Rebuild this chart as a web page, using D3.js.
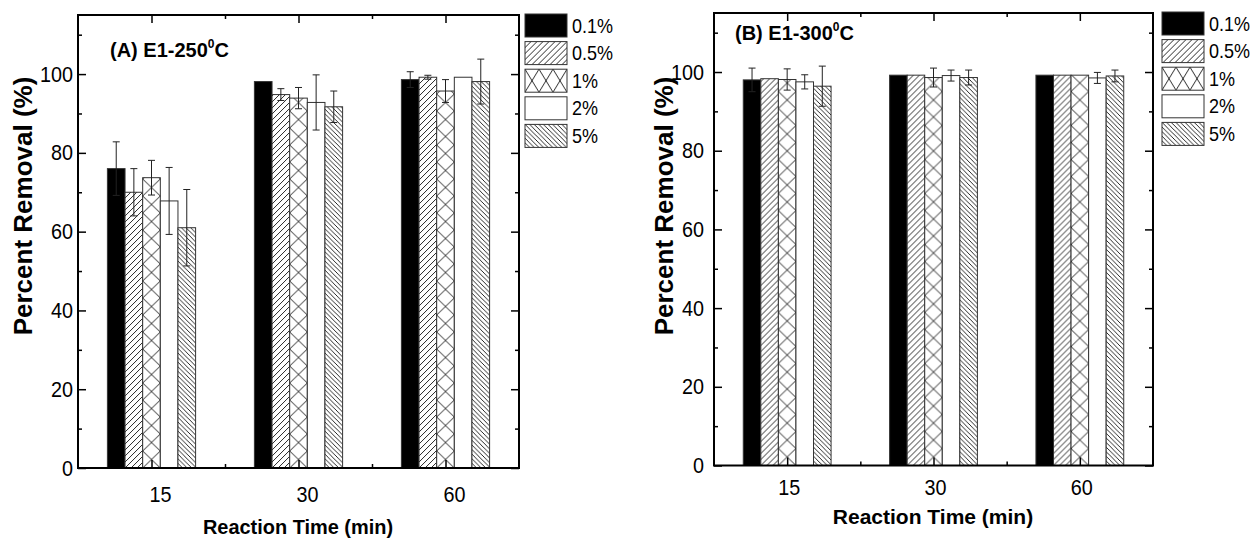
<!DOCTYPE html>
<html>
<head>
<meta charset="utf-8">
<script src="https://cdn.jsdelivr.net/npm/d3@7"></script>
<style>
  body { margin: 0; background: #fff; }
  text { font-family: "Liberation Sans", Arial, Helvetica, sans-serif; fill: #000; }
</style>
</head>
<body>
<svg></svg>
<script>
// data
var times = ['15', '30', '60'];
var loadings = ['0.1%', '0.5%', '1%', '2%', '5%'];
var fills = ['solid', 'fwd', 'cross', 'empty', 'back'];
var yTicks = [0, 20, 40, 60, 80, 100];
var yMinor = [10, 30, 50, 70, 90, 110];

// percent removal, one row per loading, one value per reaction time
var meanA = [[76.0, 98.1, 98.6], [70.0, 94.8, 99.2], [73.7, 93.9, 95.7], [67.8, 92.8, 99.2], [61.0, 91.7, 98.1]];
var errA  = [[6.8, 0, 2.0], [6.0, 1.5, 0.5], [4.4, 2.7, 2.9], [8.5, 7.0, 0], [9.7, 4.0, 5.7]];
var meanB = [[98.0, 99.2, 99.2], [98.3, 99.2, 99.2], [98.1, 98.6, 99.2], [97.5, 99.1, 98.5], [96.4, 98.6, 99.0]];
var errB  = [[3.0, 0, 0], [0, 0, 0], [2.7, 2.4, 0], [1.8, 1.4, 1.4], [5.1, 1.9, 1.5]];

var svg = d3.select('svg').attr('width', 1253).attr('height', 539);
var defs = svg.append('defs');

// hatch patterns, made per mark so the tiles line up with the bar edges
function pattern(id, type, x, y, w, h) {
  var p = defs.append('pattern').attr('id', id)
    .attr('patternUnits', 'userSpaceOnUse')
    .attr('x', x).attr('y', y).attr('width', w).attr('height', h);
  var d;
  if (type == 'fwd') d = 'M-1,1L1,-1M0,' + h + 'L' + w + ',0M' + (w - 1) + ',' + (h + 1) + 'L' + (w + 1) + ',' + (h - 1);
  else if (type == 'back') d = 'M-1,' + (h - 1) + 'L1,' + (h + 1) + 'M0,0L' + w + ',' + h + 'M' + (w - 1) + ',-1L' + (w + 1) + ',1';
  else d = 'M0,0L' + w + ',' + h + 'M' + w + ',0L0,' + h;
  p.append('rect').attr('width', w).attr('height', h).attr('fill', '#fff');
  p.append('path').attr('d', d).attr('stroke', '#111').attr('stroke-width', 0.9).attr('fill', 'none');
  return 'url(#' + id + ')';
}

function fillFor(type, id, x, y, w, crossH) {
  if (type == 'solid') return '#000';
  if (type == 'empty') return '#fff';
  if (type == 'fwd') return pattern(id, 'fwd', x, y, 6, 6);
  if (type == 'back') return pattern(id, 'back', x, y, 4.6, 4.6);
  return pattern(id, 'cross', x, y, w, crossH);
}

// text squeezed a little sideways, like the narrow face of the original
function label(g, x, y, str, size, sx, anchor, bold) {
  return g.append('text')
    .attr('transform', 'translate(' + x + ',' + y + ') scale(' + sx + ',1)')
    .attr('text-anchor', anchor || 'middle')
    .style('font-size', size + 'px').style('font-weight', bold ? 'bold' : 'normal')
    .text(str);
}

function drawPanel(p) {
  var g = svg.append('g');
  var x = d3.scaleLinear().domain([0.5, 3.5]).range([p.left, p.right]);
  var y = d3.scaleLinear().domain([0, 115]).range([p.bottom, p.top]);
  var step = x(2) - x(1);
  var bw = step * 0.12;

  // bars
  loadings.forEach(function(l, i) {
    times.forEach(function(t, j) {
      var bx = x(j + 1) - bw * 2.5 + i * bw;
      var v = p.mean[i][j];
      g.append('rect')
        .attr('x', bx).attr('y', y(v))
        .attr('width', bw).attr('height', y(0) - y(v))
        .attr('fill', fillFor(fills[i], p.id + 'b' + i + j, bx, p.bottom, bw, 17))
        .attr('stroke', '#333').attr('stroke-width', 1);
    });
  });

  // error bars
  loadings.forEach(function(l, i) {
    times.forEach(function(t, j) {
      var e = p.err[i][j];
      if (!e) return;
      var cx = x(j + 1) - bw * 2.5 + (i + 0.5) * bw;
      var v = p.mean[i][j];
      var eb = g.append('g').attr('stroke', '#222').attr('stroke-width', 1);
      eb.append('line').attr('x1', cx).attr('x2', cx).attr('y1', y(v - e)).attr('y2', y(v + e));
      [v - e, v + e].forEach(function(c) {
        eb.append('line').attr('x1', cx - 3.5).attr('x2', cx + 3.5).attr('y1', y(c)).attr('y2', y(c));
      });
    });
  });

  // axes, ticks pointing inward on all four sides
  function ax(axis, tx, ty) {
    var a = g.append('g').attr('transform', 'translate(' + tx + ',' + ty + ')').call(axis);
    a.select('.domain').remove();
    a.selectAll('line').attr('stroke', '#000').attr('stroke-width', 1.5);
    return a;
  }
  ax(d3.axisBottom(x).tickValues([1, 2, 3]).tickSize(-8).tickFormat(''), 0, p.bottom);
  ax(d3.axisBottom(x).tickValues([1.5, 2.5]).tickSize(-4).tickFormat(''), 0, p.bottom);
  ax(d3.axisTop(x).tickValues([1, 2, 3]).tickSize(-8).tickFormat(''), 0, p.top);
  ax(d3.axisTop(x).tickValues([1.5, 2.5]).tickSize(-4).tickFormat(''), 0, p.top);
  var la = ax(d3.axisLeft(y).tickValues(yTicks).tickSize(-8).tickPadding(p.tickPad / 0.9).tickFormat(d3.format('d')), p.left, 0);
  la.selectAll('text').style('font-size', '22px').attr('fill', '#000').attr('transform', 'scale(0.9,1)');
  ax(d3.axisLeft(y).tickValues(yMinor).tickSize(-4).tickFormat(''), p.left, 0);
  ax(d3.axisRight(y).tickValues(yTicks).tickSize(-8).tickFormat(''), p.right, 0);
  ax(d3.axisRight(y).tickValues(yMinor).tickSize(-4).tickFormat(''), p.right, 0);

  g.append('rect')
    .attr('x', p.left).attr('y', p.top)
    .attr('width', p.right - p.left).attr('height', p.bottom - p.top)
    .attr('fill', 'none').attr('stroke', '#000').attr('stroke-width', 2);

  // category labels
  times.forEach(function(t, j) {
    label(g, x(j + 1) + p.labelDx, p.labelY, t, 22, 0.9);
  });

  label(g, p.xTitleX, p.xTitleY, 'Reaction Time (min)', 21, p.titleSx, 'middle', true);

  g.append('text')
    .attr('transform', 'translate(' + p.yTitleX + ',206) rotate(-90)')
    .attr('text-anchor', 'middle').style('font-size', '26px').style('font-weight', 'bold')
    .text('Percent Removal (%)');

  var tt = g.append('text').attr('x', p.titleX).attr('y', p.titleY)
    .style('font-size', '20px').style('font-weight', 'bold');
  tt.append('tspan').text(p.title);
  tt.append('tspan').attr('dy', -9).style('font-size', '12px').text('0');
  tt.append('tspan').attr('dy', 9).text('C');

  // legend
  var lg = g.append('g');
  loadings.forEach(function(l, i) {
    var ty = p.legTop + i * 27.6;
    lg.append('rect')
      .attr('x', p.legX).attr('y', ty).attr('width', 42).attr('height', 23)
      .attr('fill', fillFor(fills[i], p.id + 'l' + i, p.legX, ty, 14, 23))
      .attr('stroke', '#333').attr('stroke-width', 1);
    label(lg, p.legX + 47, ty + 18.5, l, 20, 0.9, 'start');
  });
}

drawPanel({
  id: 'A', mean: meanA, err: errA, title: '(A) E1-250',
  left: 78, right: 519, top: 15, bottom: 468, tickPad: 5,
  labelDx: 9, labelY: 502, xTitleX: 298, xTitleY: 534, titleSx: 0.95, yTitleX: 32,
  titleX: 110, titleY: 57, legX: 525, legTop: 14
});
drawPanel({
  id: 'B', mean: meanB, err: errB, title: '(B) E1-300',
  left: 714, right: 1153, top: 13, bottom: 465.5, tickPad: 10,
  labelDx: 2, labelY: 495, xTitleX: 933, xTitleY: 524, titleSx: 1.0, yTitleX: 673,
  titleX: 735, titleY: 40, legX: 1162, legTop: 12
});
</script>
</body>
</html>
